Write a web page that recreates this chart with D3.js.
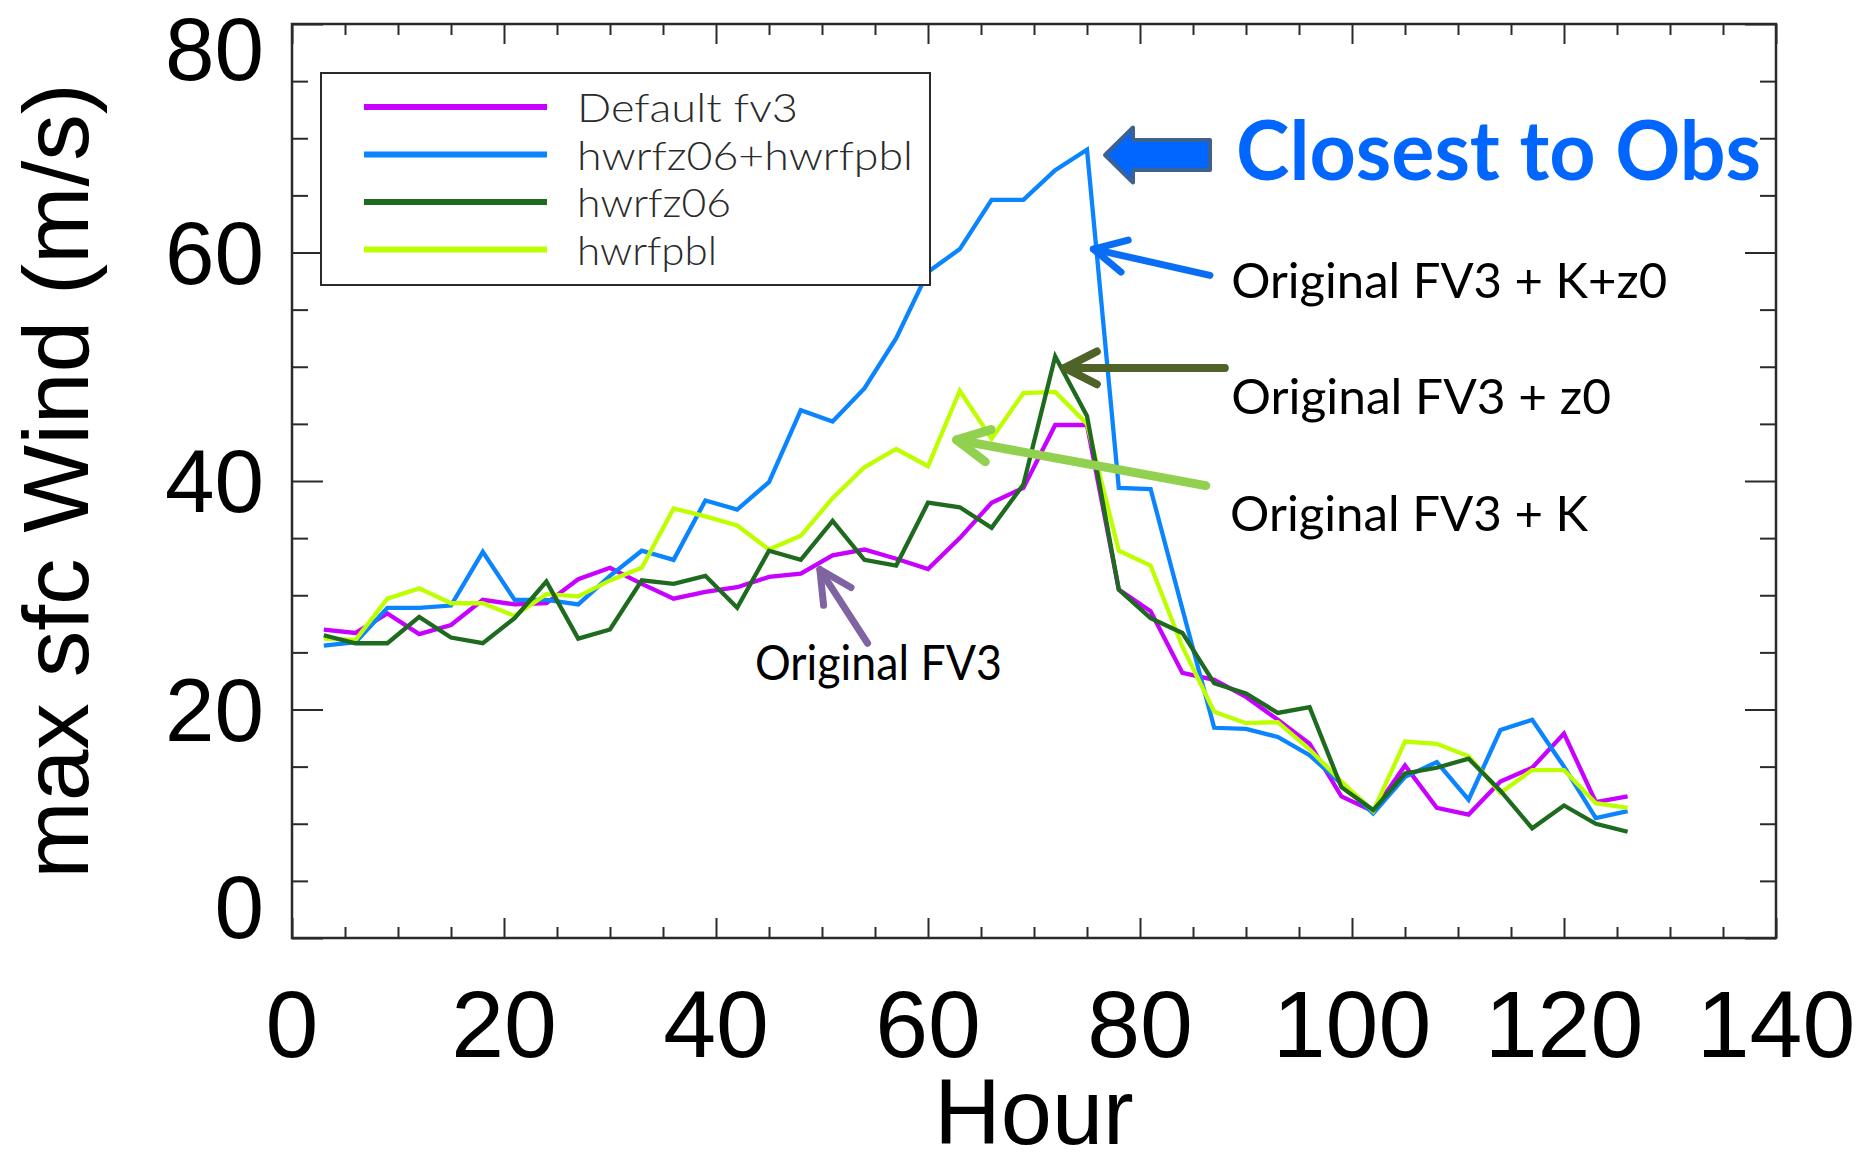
<!DOCTYPE html>
<html><head><meta charset="utf-8">
<script src="https://cdn.jsdelivr.net/npm/d3@7"></script>
<style>html,body{margin:0;padding:0;background:#fff;}svg{display:block;}</style>
</head><body>
<svg id="c" width="1860" height="1165"></svg>
<script>
// ---------------- data ----------------
const hours = [3,6,9,12,15,18,21,24,27,30,33,36,39,42,45,48,51,54,57,60,63,66,69,72,75,78,81,84,87,90,93,96,99,102,105,108,111,114,117,120,123,126];
const defaultFv3 = [27.0,26.7,28.4,26.6,27.4,29.6,29.2,29.3,31.4,32.4,31.0,29.7,30.3,30.7,31.6,31.9,33.5,34.0,33.2,32.3,35.0,38.1,39.4,44.9,44.9,30.5,28.6,23.2,22.6,21.1,19.1,17.0,12.4,11.1,15.1,11.4,10.8,13.7,14.9,17.9,11.9,12.4];
const hwrfz06Hwrfpbl = [25.6,25.9,28.9,28.9,29.1,33.8,29.6,29.6,29.2,31.7,33.9,33.1,38.3,37.5,39.9,46.2,45.2,48.1,52.5,58.3,60.3,64.6,64.6,67.2,69.0,39.4,39.3,28.8,18.4,18.3,17.6,16.0,13.5,10.9,14.1,15.4,12.1,18.2,19.1,15.0,10.5,11.1];
const hwrfz06 = [26.5,25.8,25.8,28.1,26.3,25.8,28.0,31.2,26.2,27.0,31.3,31.0,31.7,28.9,33.9,33.1,36.5,33.1,32.6,38.1,37.7,35.9,39.7,50.9,45.7,30.5,28.0,26.7,22.3,21.4,19.7,20.2,13.2,11.2,14.4,14.9,15.7,12.9,9.6,11.6,10.0,9.3];
const hwrfpbl = [26.2,26.1,29.7,30.6,29.3,29.3,28.2,30.1,29.9,31.3,32.4,37.6,36.9,36.1,34.0,35.2,38.5,41.2,42.8,41.3,47.9,43.7,47.7,47.8,45.0,33.9,32.6,25.5,19.8,18.8,18.9,16.5,13.7,11.1,17.2,17.0,15.9,12.7,14.7,14.7,11.8,11.4];
const seriesNames = ["Default fv3","hwrfz06+hwrfpbl","hwrfz06","hwrfpbl"];
const seriesValues = [defaultFv3, hwrfz06Hwrfpbl, hwrfz06, hwrfpbl];
const xTickValues = [0,20,40,60,80,100,120,140];
const yTickValues = [0,20,40,60,80];
const xTitle = "Hour";
const yTitle = "max sfc Wind (m/s)";
const headline = "Closest to Obs";
const callouts = ["Original FV3 + K+z0","Original FV3 + z0","Original FV3 + K","Original FV3"];

// ---------------- styles ----------------
const seriesColors = ["#C800FF","#0A84FF","#1E6A1E","#BEFF00"];
const drawOrder = [0,1,3,2];
const legendTextWidths = [221,336,154,140];

// ---------------- chart ----------------
const svg = d3.select("#c");
svg.append("rect").attr("width",1860).attr("height",1165).attr("fill","#fff");
const x = d3.scaleLinear().domain([0,140]).range([292,1776]);
const y = d3.scaleLinear().domain([0,80]).range([938,24]);
const axisColor = "#2a2a2a";

const xMinor = d3.range(5,140,5).filter(v => v % 20 !== 0);
const yMinor = d3.range(5,80,5).filter(v => v % 20 !== 0);

function tickLayer(axis, tr){
  const g = svg.append("g").attr("transform", tr).call(axis);
  g.select(".domain").remove();
  g.selectAll("text").remove();
  g.selectAll("line").attr("stroke", axisColor).attr("stroke-width", 2);
}
tickLayer(d3.axisBottom(x).tickValues(xTickValues).tickSize(-20).tickSizeOuter(0), `translate(0,${y(0)})`);
tickLayer(d3.axisBottom(x).tickValues(xMinor).tickSize(-11).tickSizeOuter(0), `translate(0,${y(0)})`);
tickLayer(d3.axisTop(x).tickValues(xTickValues).tickSize(-20).tickSizeOuter(0), `translate(0,${y(80)})`);
tickLayer(d3.axisTop(x).tickValues(xMinor).tickSize(-11).tickSizeOuter(0), `translate(0,${y(80)})`);
tickLayer(d3.axisLeft(y).tickValues(yTickValues).tickSize(-31).tickSizeOuter(0), `translate(${x(0)},0)`);
tickLayer(d3.axisLeft(y).tickValues(yMinor).tickSize(-16).tickSizeOuter(0), `translate(${x(0)},0)`);
tickLayer(d3.axisRight(y).tickValues(yTickValues).tickSize(-31).tickSizeOuter(0), `translate(${x(140)},0)`);
tickLayer(d3.axisRight(y).tickValues(yMinor).tickSize(-16).tickSizeOuter(0), `translate(${x(140)},0)`);

// frame
svg.append("rect")
  .attr("x", x(0)).attr("y", y(80))
  .attr("width", x(140)-x(0)).attr("height", y(0)-y(80))
  .attr("fill","none").attr("stroke",axisColor).attr("stroke-width",2.5);

// tick labels
const labelFont = "'Liberation Sans', Arial, Helvetica, sans-serif";
svg.append("g").selectAll("text").data(xTickValues).join("text")
  .attr("x", d => x(d)).attr("y", y(0)+119)
  .attr("text-anchor","middle").attr("font-family",labelFont)
  .attr("font-size",95).attr("fill","#000").text(d => d);
svg.append("g").selectAll("text").data(yTickValues).join("text")
  .attr("x", x(0)-28)
  .attr("y", d => Math.min(y(0), Math.max(y(80)+56, y(d)+31)))
  .attr("text-anchor","end").attr("font-family",labelFont)
  .attr("font-size",89).attr("fill","#000").text(d => d);

// axis titles
svg.append("text").attr("x",(x(0)+x(140))/2).attr("y",1144)
  .attr("text-anchor","middle").attr("font-family",labelFont)
  .attr("font-size",92).attr("fill","#000").text(xTitle);
svg.append("text").attr("transform",`translate(88,${(y(0)+y(80))/2}) rotate(-90)`)
  .attr("text-anchor","middle").attr("font-family",labelFont)
  .attr("font-size",93).attr("fill","#000").text(yTitle);

// series lines
const line = d3.line().x(d => x(d[0])).y(d => y(d[1]));
drawOrder.forEach(i => {
  svg.append("path")
    .datum(hours.map((h,k) => [h, seriesValues[i][k]]))
    .attr("d", line).attr("fill","none")
    .attr("stroke", seriesColors[i]).attr("stroke-width",4.3)
    .attr("stroke-linejoin","miter");
});

// legend
const lg = svg.append("g");
lg.append("rect").attr("x",321).attr("y",73).attr("width",609).attr("height",212)
  .attr("fill","#fff").attr("stroke",axisColor).attr("stroke-width",2);
seriesNames.forEach((name,i) => {
  const ly = 107 + i*47.5;
  lg.append("line").attr("x1",364).attr("x2",547).attr("y1",ly).attr("y2",ly)
    .attr("stroke",seriesColors[i]).attr("stroke-width",6);
  lg.append("text").attr("x",577).attr("y",ly+15)
    .attr("font-family","Lato, 'DejaVu Sans', sans-serif").attr("font-weight",300)
    .attr("font-size",40).attr("fill","#2a2a2a")
    .attr("textLength",legendTextWidths[i]).attr("lengthAdjust","spacingAndGlyphs")
    .text(name);
});

// ---------------- annotations ----------------
const annFont = "Lato, 'Open Sans', sans-serif";
const tip = [x(76.7), y(68.53)];
const blk = [[0,0],[28,-27.5],[28,-15],[105,-15],[105,15],[28,15],[28,27.5]]
  .map(p => [tip[0]+p[0], tip[1]+p[1]]);
svg.append("path").attr("d", d3.line()(blk) + "Z")
  .attr("fill","#0066FF").attr("stroke","#3D6190").attr("stroke-width",4)
  .attr("stroke-linejoin","round");
svg.append("text").attr("x",x(89.06)).attr("y",y(66.35))
  .attr("font-family",annFont).attr("font-weight",700).attr("font-size",82)
  .attr("fill","#0066FF").attr("textLength",525).attr("lengthAdjust","spacingAndGlyphs")
  .text(headline);

function arrow(tail, tipD, color, w){
  const t0 = [x(tail[0]), y(tail[1])], t1 = [x(tipD[0]), y(tipD[1])];
  const ang = Math.atan2(t0[1]-t1[1], t0[0]-t1[0]);
  const L = 36, spread = 27*Math.PI/180;
  const a1 = [t1[0]+L*Math.cos(ang-spread), t1[1]+L*Math.sin(ang-spread)];
  const a2 = [t1[0]+L*Math.cos(ang+spread), t1[1]+L*Math.sin(ang+spread)];
  const g = svg.append("g").attr("fill","none").attr("stroke",color)
    .attr("stroke-width",w).attr("stroke-linecap","round").attr("stroke-linejoin","round");
  g.append("path").attr("d", d3.line()([t0,t1]));
  g.append("path").attr("d", d3.line()([a1,t1,a2]));
}
arrow([86.6,58.0],[75.6,60.3],"#0A6EF5",7);
arrow([88.0,49.9],[72.9,49.9],"#4F6228",8);
arrow([86.2,39.6],[62.7,43.6],"#92D050",9);
arrow([54.3,25.8],[49.8,32.25],"#8064A2",7);

const calloutPos = [[88.6,56.02,436],[88.6,45.86,380],[88.5,35.62,358],[43.68,22.58,247]];
callouts.forEach((t,i) => {
  svg.append("text").attr("x",x(calloutPos[i][0])).attr("y",y(calloutPos[i][1]))
    .attr("font-family",annFont).attr("font-size",49).attr("fill","#000")
    .attr("textLength",calloutPos[i][2]).attr("lengthAdjust","spacingAndGlyphs")
    .text(t);
});
</script>
</body></html>
